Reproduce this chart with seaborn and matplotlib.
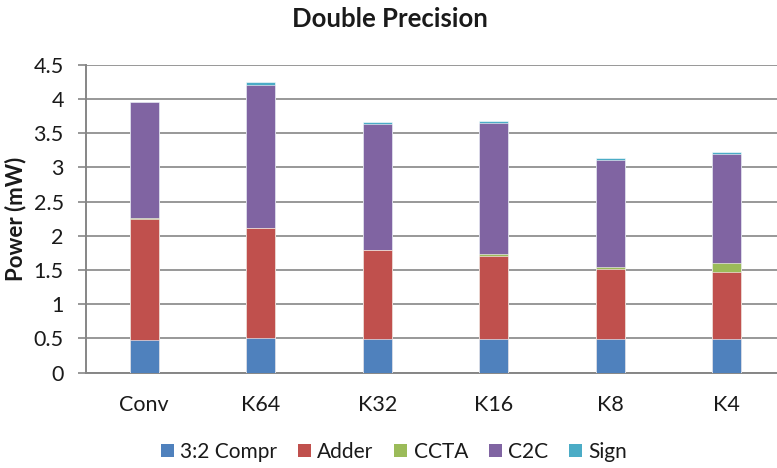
import numpy as np
import pandas as pd
import matplotlib
matplotlib.use("Agg")
import matplotlib.pyplot as plt
from matplotlib.patches import Patch
import seaborn as sns

# Power breakdown per design (mW)
categories = ["Conv", "K64", "K32", "K16", "K8", "K4"]
compr = [0.48, 0.50, 0.49, 0.49, 0.49, 0.49]
adder = [1.77, 1.61, 1.30, 1.22, 1.02, 0.98]
ccta = [0.01, 0.01, 0.01, 0.02, 0.03, 0.14]
c2c = [1.69, 2.09, 1.83, 1.92, 1.57, 1.59]
sign = [0.005, 0.04, 0.04, 0.03, 0.03, 0.03]

series_names = ["3:2 Compr", "Adder", "CCTA", "C2C", "Sign"]
series_values = [compr, adder, ccta, c2c, sign]
colors = ["#4F81BD", "#C0504D", "#9BBB59", "#8064A2", "#4BACC6"]

sns.set_theme(style="white")
plt.rcParams["font.family"] = ["Lato", "DejaVu Sans"]

df = pd.DataFrame({"Design": categories})
for name, vals in zip(series_names, series_values):
    df[name] = vals
# cumulative heights so each layer is drawn from the top of the previous one
cum = df[series_names].cumsum(axis=1)

fig = plt.figure(figsize=(7.77, 4.68), dpi=100)
ax = fig.add_axes([86 / 777, 1 - 372.7 / 468, 699 / 777, 308 / 468])

for name, col in reversed(list(zip(series_names, colors))):
    sns.barplot(x=df["Design"], y=cum[name], color=col, width=0.25,
                saturation=1, ax=ax, edgecolor="white", linewidth=0.4,
                zorder=3)

ax.set_ylim(0, 4.5)
ax.set_yticks(np.arange(0, 4.51, 0.5))
ax.set_yticklabels(["0", "0.5", "1", "1.5", "2", "2.5", "3", "3.5", "4", "4.5"])
ax.set_xlim(-0.5, len(categories) - 0.5)
ax.grid(axis="y", color="#989898", linewidth=1.4, zorder=0)
ax.set_axisbelow(True)
ax.set_xlabel("")
ax.set_ylabel("")

for s in ["top", "right"]:
    ax.spines[s].set_visible(False)
for s in ["left", "bottom"]:
    ax.spines[s].set_color("#868686")
    ax.spines[s].set_linewidth(1.4)

ax.tick_params(axis="y", which="major", direction="out", length=5.5,
               width=1.2, color="#868686", pad=10.5, labelsize=15.5,
               labelcolor="#1a1a1a", left=True)
ax.tick_params(axis="x", length=0, pad=16, labelsize=15.5, labelcolor="#1a1a1a")

fig.text(390 / 777, 1 - 19 / 468, "Double Precision", ha="center", va="center",
         fontsize=18.5, fontweight="bold", color="#1a1a1a")
fig.text(16 / 777, 1 - 219 / 468, "Power (mW)", ha="center", va="center",
         rotation=90, fontsize=16, fontweight="bold", color="#1a1a1a")

handles = [Patch(facecolor=c, edgecolor="none", label=n)
           for n, c in zip(series_names, colors)]
fig.legend(handles=handles, loc="center", bbox_to_anchor=(394 / 777, 1 - 452 / 468),
           ncol=5, frameon=False, fontsize=15, handlelength=0.62,
           handleheight=0.62, handletextpad=0.3, columnspacing=1.0,
           labelcolor="#1a1a1a")

fig.savefig("out.png", dpi=100)
